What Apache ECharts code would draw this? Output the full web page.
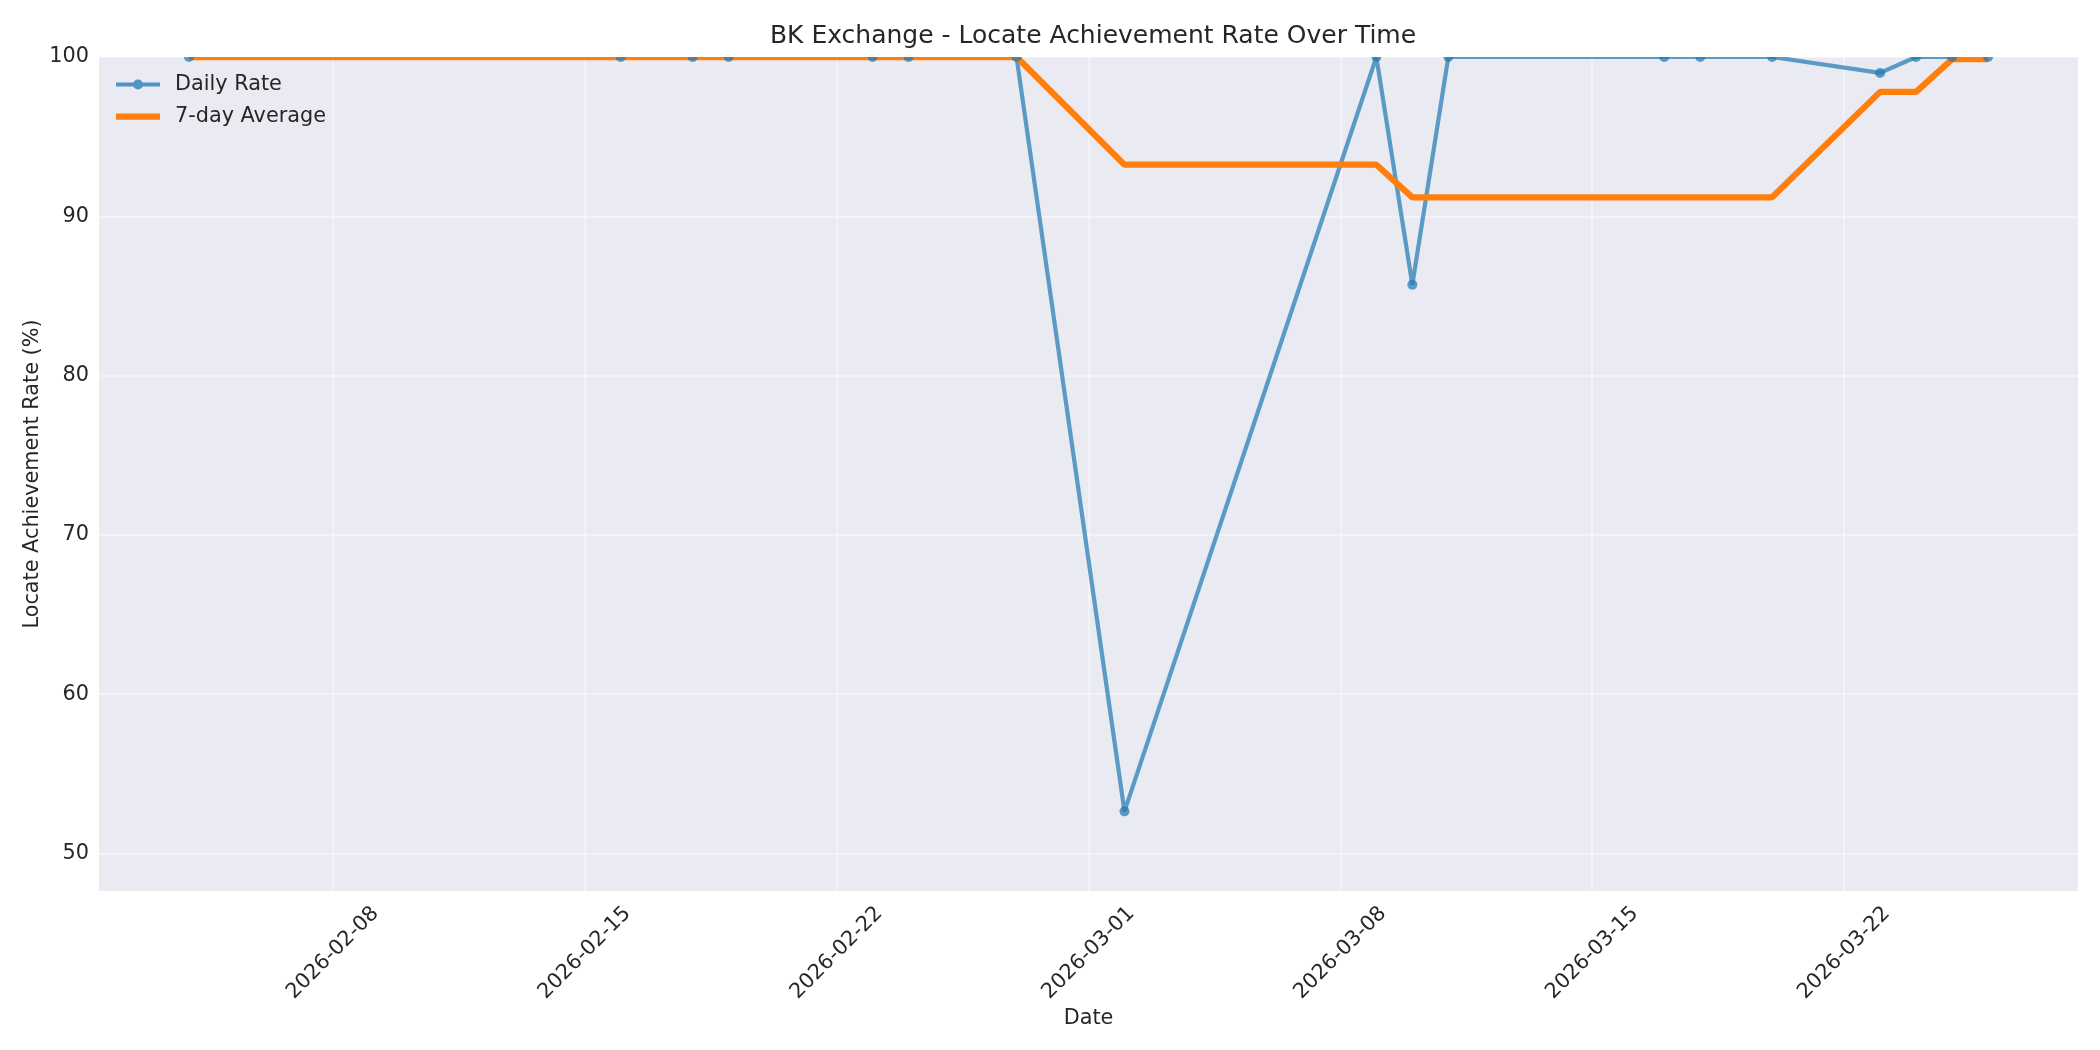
<!DOCTYPE html>
<html>
<head>
<meta charset="utf-8">
<title>BK Exchange - Locate Achievement Rate Over Time</title>
<script src="https://cdn.jsdelivr.net/npm/echarts@6.0.0/dist/echarts.min.js"></script>
<style>
    html, body { margin: 0; padding: 0; background: #fff; }
    #main { width: 2100px; height: 1050px; }
</style>
</head>
<body>
<div id="main"></div>
<script>
// 数据
let dates = ['2026-02-04', '2026-02-16', '2026-02-18', '2026-02-19', '2026-02-23', '2026-02-24',
    '2026-02-27', '2026-03-02', '2026-03-09', '2026-03-10', '2026-03-11', '2026-03-17',
    '2026-03-18', '2026-03-20', '2026-03-23', '2026-03-24', '2026-03-25', '2026-03-26']
let dailyRate = [100, 100, 100, 100, 100, 100, 100, 52.65, 100, 85.71, 100, 100, 100, 100, 99.0, 100, 100, 100]
let avg7 = [100, 100, 100, 100, 100, 100, 100, 93.24, 93.24, 91.19, 91.19, 91.19, 91.19, 91.19, 97.81, 97.81, 99.86, 99.86]
let xTicks = ['2026-02-08', '2026-02-15', '2026-02-22', '2026-03-01', '2026-03-08', '2026-03-15', '2026-03-22']
let yTicks = [50, 60, 70, 80, 90, 100]

let TEXT = '#262626'
let FONT = 'DejaVu Sans'
let BLUE = '#1f77b4'
let ORANGE = '#ff7f0e'

// 本地时间的时间戳
function ts (s) {
    return new Date(s + 'T00:00:00').getTime()
}
let DAY = 24 * 3600 * 1000

let myChart = echarts.init(document.getElementById('main'))
myChart.setOption({
    animation: false,
    textStyle: { fontFamily: FONT, color: TEXT },
    title: {
        text: 'BK Exchange - Locate Achievement Rate Over Time',
        left: 1088,
        top: 19,
        textAlign: 'center',
        z: 200,
        textStyle: { fontFamily: FONT, fontSize: 25, fontWeight: 'normal', color: TEXT }
    },
    legend: {
        orient: 'vertical',
        left: 111,
        top: 69,
        itemWidth: 44,
        itemHeight: 20,
        itemGap: 11,
        textStyle: { fontFamily: FONT, fontSize: 20.8, color: TEXT, padding: [0, 0, 0, 10] },
        data: [
            {
                name: 'Daily Rate',
                // 线 + 圆点
                icon: 'path://M0,7.9h44v4.2h-44z M17,10a5,5 0 1,1 10,0a5,5 0 1,1 -10,0z',
                itemStyle: { color: BLUE, opacity: 0.75 }
            },
            {
                name: '7-day Average',
                icon: 'path://M0,0h44v6.25h-44z',
                itemStyle: { color: ORANGE }
            }
        ]
    },
    grid: {
        left: 99,
        right: 22,
        top: 57,
        bottom: 159,
        show: true,
        backgroundColor: '#eaeaf2',
        borderWidth: 0
    },
    // 遮住绘图区上方超出的部分 (模拟裁剪)
    graphic: [{
        type: 'rect',
        z: 100,
        shape: { x: 99, y: 0, width: 2001, height: 57 },
        style: { fill: '#ffffff' }
    }],
    xAxis: {
        type: 'value',
        min: ts(dates[0]) - 2.5 * DAY,
        max: ts(dates[dates.length - 1]) + 2.5 * DAY,
        name: 'Date',
        nameLocation: 'middle',
        nameGap: 117,
        nameMoveOverlap: false,
        nameTextStyle: { fontFamily: FONT, fontSize: 20.8, color: TEXT },
        axisLine: { show: false },
        axisTick: { show: false, customValues: xTicks.map(ts) },
        axisLabel: {
            customValues: xTicks.map(ts),
            rotate: 45,
            align: 'center',
            verticalAlign: 'middle',
            margin: 62,
            fontFamily: FONT,
            fontSize: 20.8,
            color: TEXT,
            formatter: function (v) {
                return echarts.time.format(v, '{yyyy}-{MM}-{dd}', false)
            }
        },
        splitLine: { show: true, lineStyle: { color: 'rgba(255,255,255,0.4)', width: 2 } }
    },
    yAxis: {
        type: 'value',
        min: 47.65,
        max: 100,
        name: 'Locate Achievement Rate (%)',
        nameLocation: 'middle',
        nameGap: 56,
        nameMoveOverlap: false,
        nameTextStyle: { fontFamily: FONT, fontSize: 20.8, color: TEXT },
        axisLine: { show: false },
        axisTick: { show: false, customValues: yTicks },
        axisLabel: {
            customValues: yTicks,
            margin: 10,
            fontFamily: FONT,
            fontSize: 20.8,
            color: TEXT
        },
        splitLine: { show: true, lineStyle: { color: 'rgba(255,255,255,0.4)', width: 2 } }
    },
    series: [
        {
            name: 'Daily Rate',
            type: 'line',
            data: dates.map(function (d, i) { return [ts(d), dailyRate[i]] }),
            symbol: 'circle',
            symbolSize: 10,
            showSymbol: true,
            color: BLUE,
            lineStyle: { width: 4.2, color: BLUE, opacity: 0.7 },
            itemStyle: { color: BLUE, opacity: 0.7 }
        },
        {
            name: '7-day Average',
            type: 'line',
            data: dates.map(function (d, i) { return [ts(d), avg7[i]] }),
            symbol: 'none',
            showSymbol: false,
            color: ORANGE,
            lineStyle: { width: 6.25, color: ORANGE }
        }
    ]
})
</script>
</body>
</html>
